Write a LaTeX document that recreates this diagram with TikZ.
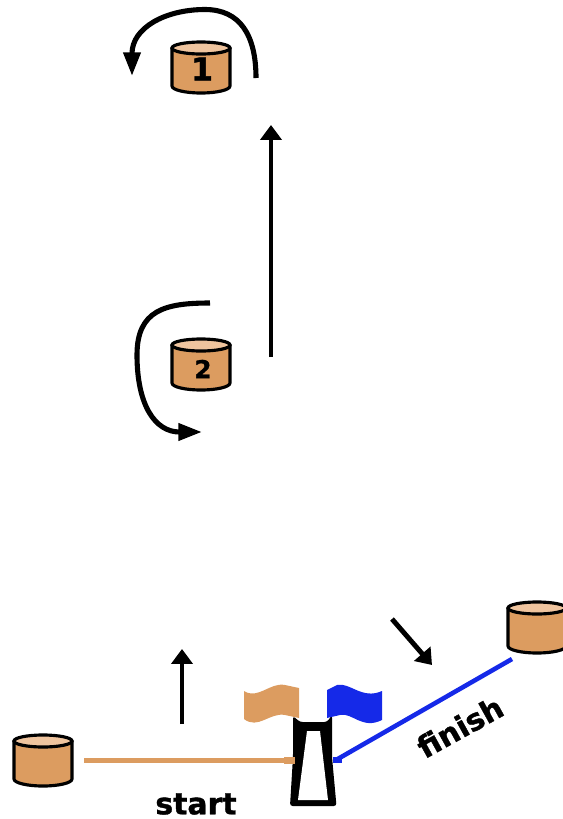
\documentclass[tikz,border=0pt]{standalone}
\usepackage{fontspec}
\newfontfamily\labfont[BoldFeatures={FakeBold=1.2}]{DejaVu Sans}
\usepackage{xcolor}
\usetikzlibrary{arrows.meta}
\definecolor{tan}{HTML}{DC9C60}
\definecolor{tanlight}{HTML}{EFC49E}
\definecolor{flagblue}{HTML}{1529E8}
\tikzset{
  run/.style={draw=black, line width=2.8pt, -{Triangle[length=8.5pt,width=12pt]}},
  turn/.style={draw=black, line width=2.9pt, -{Triangle[length=13.5pt,width=9.5pt]}},
  startline/.style={draw=tan, line width=2.9pt},
  finishline/.style={draw=flagblue, line width=2.6pt},
  lab/.style={text=black, font=\labfont\bfseries\fontsize{17}{17}\selectfont, inner sep=0pt},
  barrel/.pic={
    \draw[black, line width=1.8pt, fill=tan, line join=round]
      (-29,7) -- (-29,45) arc[start angle=180, end angle=0, x radius=29, y radius=7] -- (29,7) -- cycle;
    \draw[black, line width=1.8pt, fill=tanlight] (0,7) ellipse [x radius=29, y radius=6];
  },
}
\begin{document}
\begin{tikzpicture}[x=0.02cm,y=-0.02cm]
  \useasboundingbox (0,0) rectangle (562,819);

  % barrels
  \pic at (201,41) {barrel};
  \pic at (201,338) {barrel};
  \pic at (43,734) {barrel};
  \pic at (537,601) {barrel};
  \node[lab, font=\labfont\bfseries\fontsize{18}{18}\selectfont] (one) at (202,69) {1};
  \node[lab, font=\labfont\bfseries\fontsize{14}{14}\selectfont] (two) at (203,369) {2};

  % arrows
  \coordinate (upA) at (271,357);
  \coordinate (upB) at (271,125);
  \draw[run] (upA) -- (upB);
  \coordinate (leadA) at (182,724);
  \coordinate (leadB) at (182,649);
  \draw[run] (leadA) -- (leadB);
  \coordinate (backA) at (392,619);
  \coordinate (backB) at (432,665);
  \draw[run] (backA) -- (backB);
  \draw[turn] (256,78) .. controls (256,35) and (240,9.5) .. (205,9.5)
    .. controls (165,9.5) and (132,28) .. (132,76);
  \draw[turn] (210,303) .. controls (165,303) and (137,310) .. (137,355)
    .. controls (137,405) and (155,432) .. (202,432);

  % gate
  \fill[black, rounded corners=1.5pt] (293,716) -- (300,722) -- (327,722) -- (332,715) -- (332,757)
    -- (336.5,806) -- (290,806) -- (293,757) -- cycle;
  \fill[white] (307,731) -- (320,731) -- (328,800) -- (298,800) -- cycle;

  % flags
  \fill[tan] (244,691) .. controls (258,700) and (270,682) .. (285,685) -- (299,688)
    -- (299,718) -- (285,715) .. controls (270,712) and (258,730) .. (244,719) -- cycle;
  \fill[flagblue] (327,690) -- (337,685) .. controls (350,682) and (362,700) .. (382,691)
    -- (382,720) .. controls (362,730) and (352,712) .. (340,715) -- (327,718) -- cycle;

  % start and finish lines
  \coordinate (startA) at (84,760.5);
  \coordinate (startB) at (295,760.5);
  \draw[startline] (startA) -- (startB);
  \fill[tan] (284,757) rectangle (295,764);
  \coordinate (finishA) at (512,659);
  \coordinate (finishB) at (336,760);
  \draw[finishline] (finishA) -- (finishB);
  \fill[flagblue] (333,757) rectangle (342,763);
  \node[lab] (start) at (196,804) {start};
  \node[lab, rotate=29] (finish) at (460,727) {finish};
\end{tikzpicture}
\end{document}
